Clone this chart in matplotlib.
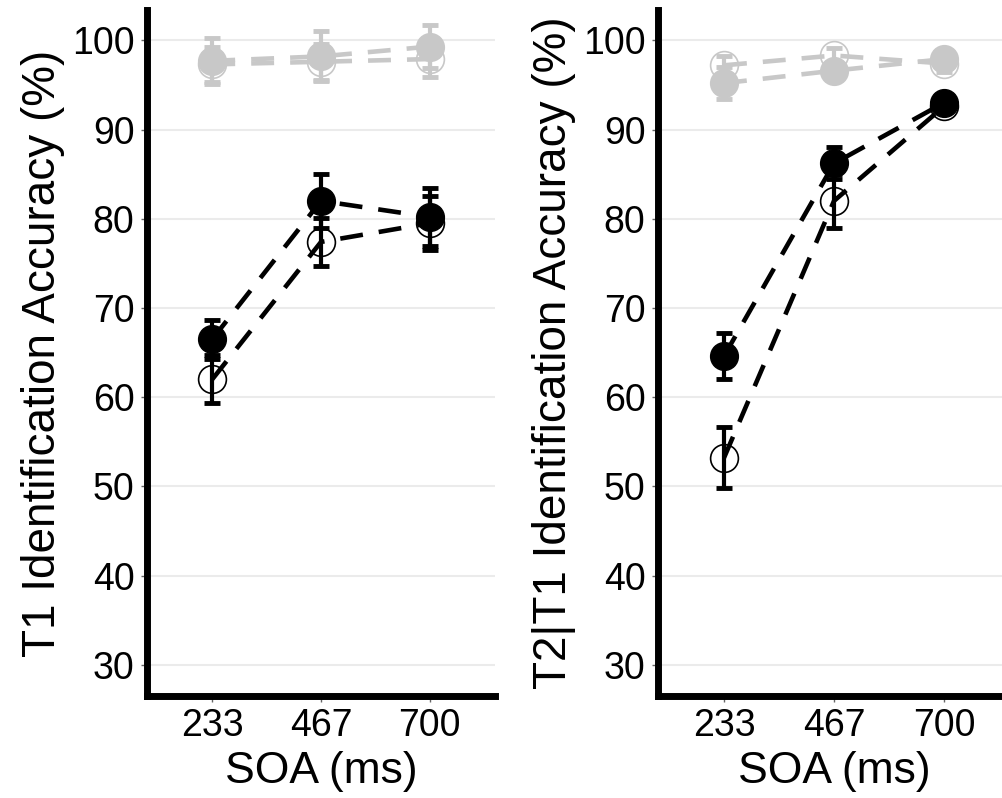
import matplotlib
matplotlib.use("Agg")
import matplotlib.pyplot as plt
import numpy as np

plt.rcParams['font.family'] = ['Liberation Sans', 'DejaVu Sans']

soa = ['233', '467', '700']

# T1 accuracy (left panel)
t1_black_filled = [66.5, 82.0, 80.2]
t1_black_filled_err = [2.2, 3.0, 3.2]
t1_black_open = [62.0, 77.4, 79.5]
t1_black_open_err = [2.7, 2.7, 3.0]
t1_grey_filled = [97.7, 98.2, 99.3]
t1_grey_filled_err = [2.6, 2.8, 2.4]
t1_grey_open = [97.3, 97.6, 97.9]
t1_grey_open_err = [2.0, 2.0, 2.0]

# T2|T1 accuracy (right panel)
t2_black_filled = [64.6, 86.2, 93.0]
t2_black_filled_err = [2.6, 1.8, 0.6]
t2_black_open = [53.2, 82.0, 92.6]
t2_black_open_err = [3.4, 3.0, 0.6]
t2_grey_filled = [95.2, 96.6, 97.9]
t2_grey_filled_err = [1.8, 1.0, 0.9]
t2_grey_open = [97.2, 98.3, 97.4]
t2_grey_open_err = [1.0, 0.8, 0.9]

GREY = '#c8c8c8'


def draw_series(ax, y, err, color, filled):
    x = np.arange(1, len(y) + 1)
    ax.errorbar(x, y, yerr=err, color=color, lw=3, capsize=6, capthick=3.5,
                linestyle='none', zorder=3)
    ax.plot(x, y, color=color, lw=3.3, linestyle=(0, (5, 3.5)), zorder=2)
    if filled:
        ax.plot(x, y, 'o', ms=20, mfc=color, mec=color, zorder=4)
    else:
        ax.plot(x, y, 'o', ms=20, mfc='none', mec=color, mew=1.2, zorder=4)


def style_axes(ax, ylabel):
    ax.set_xlim(0.4, 3.6)
    ax.set_ylim(26.5, 103.4)
    ax.set_yticks(np.arange(30, 101, 10))
    ax.set_xticks([1, 2, 3])
    ax.set_xticklabels(soa)
    ax.yaxis.grid(True, color='#ebebeb', lw=1.5)
    ax.set_axisbelow(True)
    for s in ['top', 'right']:
        ax.spines[s].set_visible(False)
    for s in ['left', 'bottom']:
        ax.spines[s].set_linewidth(5)
        ax.spines[s].set_color('black')
    ax.tick_params(axis='both', length=4, width=1, color='#666666',
                   labelsize=27, pad=5)
    ax.set_xlabel('SOA (ms)', fontsize=32, labelpad=5)
    ax.set_ylabel(ylabel, fontsize=33, labelpad=5)


fig = plt.figure(figsize=(10.02, 7.98), dpi=100)
ax1 = fig.add_axes([147 / 1002, 102 / 798, 348 / 1002, 686 / 798])
ax2 = fig.add_axes([658 / 1002, 102 / 798, 352 / 1002, 686 / 798])

draw_series(ax1, t1_grey_open, t1_grey_open_err, GREY, False)
draw_series(ax1, t1_grey_filled, t1_grey_filled_err, GREY, True)
draw_series(ax1, t1_black_open, t1_black_open_err, 'black', False)
draw_series(ax1, t1_black_filled, t1_black_filled_err, 'black', True)
style_axes(ax1, 'T1 Identification Accuracy (%)')

draw_series(ax2, t2_grey_open, t2_grey_open_err, GREY, False)
draw_series(ax2, t2_grey_filled, t2_grey_filled_err, GREY, True)
draw_series(ax2, t2_black_open, t2_black_open_err, 'black', False)
draw_series(ax2, t2_black_filled, t2_black_filled_err, 'black', True)
style_axes(ax2, 'T2|T1 Identification Accuracy (%)')

fig.savefig('out.png', dpi=100)
